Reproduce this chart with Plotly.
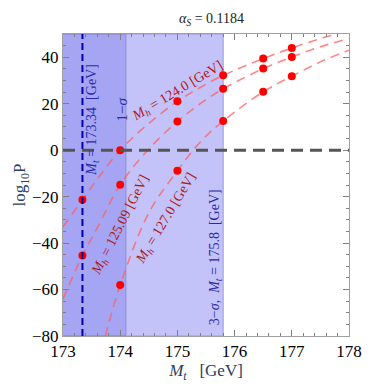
import plotly.graph_objects as go

# ---------------------------------------------------------------------------
# Data
# ---------------------------------------------------------------------------
MT_CENTRAL = 173.34
MT_1SIGMA_LO = 172.58
MT_1SIGMA_HI = 174.1
MT_3SIGMA_LO = 171.0
MT_3SIGMA_HI = 175.8

# computed points (Mt, log10 P) per Higgs mass
pts_124_x = [173.34, 174.0, 175.0, 175.8, 176.5, 177.0]
pts_124_y = [-21.4, 0.0, 21.1, 32.2, 39.4, 44.0]
pts_12509_x = [173.34, 174.0, 175.0, 175.8, 176.5, 177.0]
pts_12509_y = [-45.4, -14.9, 12.3, 26.4, 35.1, 40.1]
pts_127_x = [174.0, 175.0, 175.8, 176.5, 177.0]
pts_127_y = [-58.1, -8.9, 12.5, 25.1, 31.8]

# fitted dashed curves
fit_124_x = [173.0, 173.34, 173.6, 174.0, 174.5, 175.0, 175.4, 175.8, 176.5, 177.0, 177.5, 178.0]
fit_124_y = [-33.0, -21.4, -12.5, 0.0, 11.5, 21.0, 27.0, 32.2, 39.4, 44.0, 48.0, 51.5]
fit_12509_x = [173.0, 173.34, 173.6, 174.0, 174.5, 175.0, 175.4, 175.8, 176.5, 177.0, 177.5, 178.0]
fit_12509_y = [-64.0, -45.4, -33.5, -14.9, 0.5, 12.3, 20.0, 26.4, 35.1, 40.1, 44.5, 48.0]
fit_127_x = [173.74, 174.0, 174.5, 175.0, 175.4, 175.8, 176.5, 177.0, 177.5, 178.0]
fit_127_y = [-80.0, -58.1, -27.0, -8.9, 3.5, 12.5, 25.1, 31.8, 38.0, 43.0]

FONT = "Times New Roman, Liberation Serif, DejaVu Serif, serif"
RED_LINE = "rgba(255,95,95,0.75)"
RED_DOT = "#ff0000"
BLUE_TXT = "#2a2aa8"

fig = go.Figure()

for fx, fy in [(fit_124_x, fit_124_y), (fit_12509_x, fit_12509_y), (fit_127_x, fit_127_y)]:
    fig.add_trace(go.Scatter(
        x=fx, y=fy, mode="lines", line_shape="spline",
        line=dict(color=RED_LINE, width=1.6, dash="9px,6px"),
        hoverinfo="skip", showlegend=False,
    ))

for px, py in [(pts_124_x, pts_124_y), (pts_12509_x, pts_12509_y), (pts_127_x, pts_127_y)]:
    fig.add_trace(go.Scatter(
        x=px, y=py, mode="markers",
        marker=dict(color=RED_DOT, size=8),
        showlegend=False,
    ))

# shaded Mt bands
fig.add_shape(type="rect", xref="x", yref="y", x0=MT_3SIGMA_LO, x1=MT_3SIGMA_HI,
              y0=-80, y1=50, layer="below", fillcolor="#c3c3fa",
              line=dict(color="#9a9ad8", width=1))
fig.add_shape(type="rect", xref="x", yref="y", x0=MT_1SIGMA_LO, x1=MT_1SIGMA_HI,
              y0=-80, y1=50, layer="below", fillcolor="rgba(110,110,230,0.35)",
              line=dict(color="#8e8ed0", width=1))

# central Mt and P = 1 reference lines
fig.add_shape(type="line", xref="x", yref="y", x0=MT_CENTRAL, x1=MT_CENTRAL,
              y0=-80, y1=50, line=dict(color="#0000b0", width=2, dash="7px,4px"))
fig.add_shape(type="line", xref="x", yref="y", x0=173, x1=178, y0=0, y1=0,
              line=dict(color="#555555", width=3, dash="12px,7px"))

annots = [
    dict(x=173.52, y=13, text="<i>M<sub>t</sub></i> = 173.34  [GeV]", textangle=-90, color=BLUE_TXT, size=14),
    dict(x=174.03, y=17.5, text="1−<i>σ</i>", textangle=-90, color=BLUE_TXT, size=15),
    dict(x=175.66, y=-46, text="3−<i>σ</i>,  <i>M<sub>t</sub></i> = 175.8  [GeV]", textangle=-90, color=BLUE_TXT, size=14),
    dict(x=175.0, y=25.3, text="<i>M<sub>h</sub></i> = 124.0 [GeV]", textangle=-31, color="#b01818", size=14),
    dict(x=174.01, y=-32.5, text="<i>M<sub>h</sub></i> = 125.09 [GeV]", textangle=-63, color="#b01818", size=14),
    dict(x=174.81, y=-29.5, text="<i>M<sub>h</sub></i> = 127.0 [GeV]", textangle=-59, color="#b01818", size=14),
]
for a in annots:
    fig.add_annotation(x=a["x"], y=a["y"], xref="x", yref="y", text=a["text"],
                       textangle=a["textangle"], showarrow=False,
                       font=dict(family=FONT, size=a["size"], color=a["color"]))

axis_common = dict(
    showgrid=False, zeroline=False, showline=True, linecolor="#a0a0a0", linewidth=1,
    mirror="allticks", ticks="inside", ticklen=6, tickcolor="#808080",
    tickfont=dict(family=FONT, size=17, color="black"),
)
fig.update_xaxes(range=[173, 178], dtick=1, tick0=173,
                 minor=dict(dtick=0.2, ticks="inside", ticklen=3, tickcolor="#808080"),
                 title=dict(text="<i>M<sub>t</sub></i>   [GeV]", font=dict(family=FONT, size=17), standoff=0),
                 **axis_common)
fig.update_yaxes(range=[-80, 50], dtick=20, tick0=0,
                 minor=dict(dtick=5, ticks="inside", ticklen=3, tickcolor="#808080"),
                 title=dict(text="log<sub>10</sub>P", font=dict(family=FONT, size=17), standoff=0),
                 **axis_common)

# the page body adds an 8px margin, so the figure is 8px smaller than the window
fig.update_layout(
    width=366, height=377,
    margin=dict(l=47, r=13, t=26, b=48),
    paper_bgcolor="white", plot_bgcolor="white",
    title=dict(text="<i>α<sub>S</sub></i> = 0.1184", x=0.556, xanchor="center", y=0.985,
               font=dict(family=FONT, size=14, color="#222")),
    showlegend=False,
)

fig.write_html("out.html")
